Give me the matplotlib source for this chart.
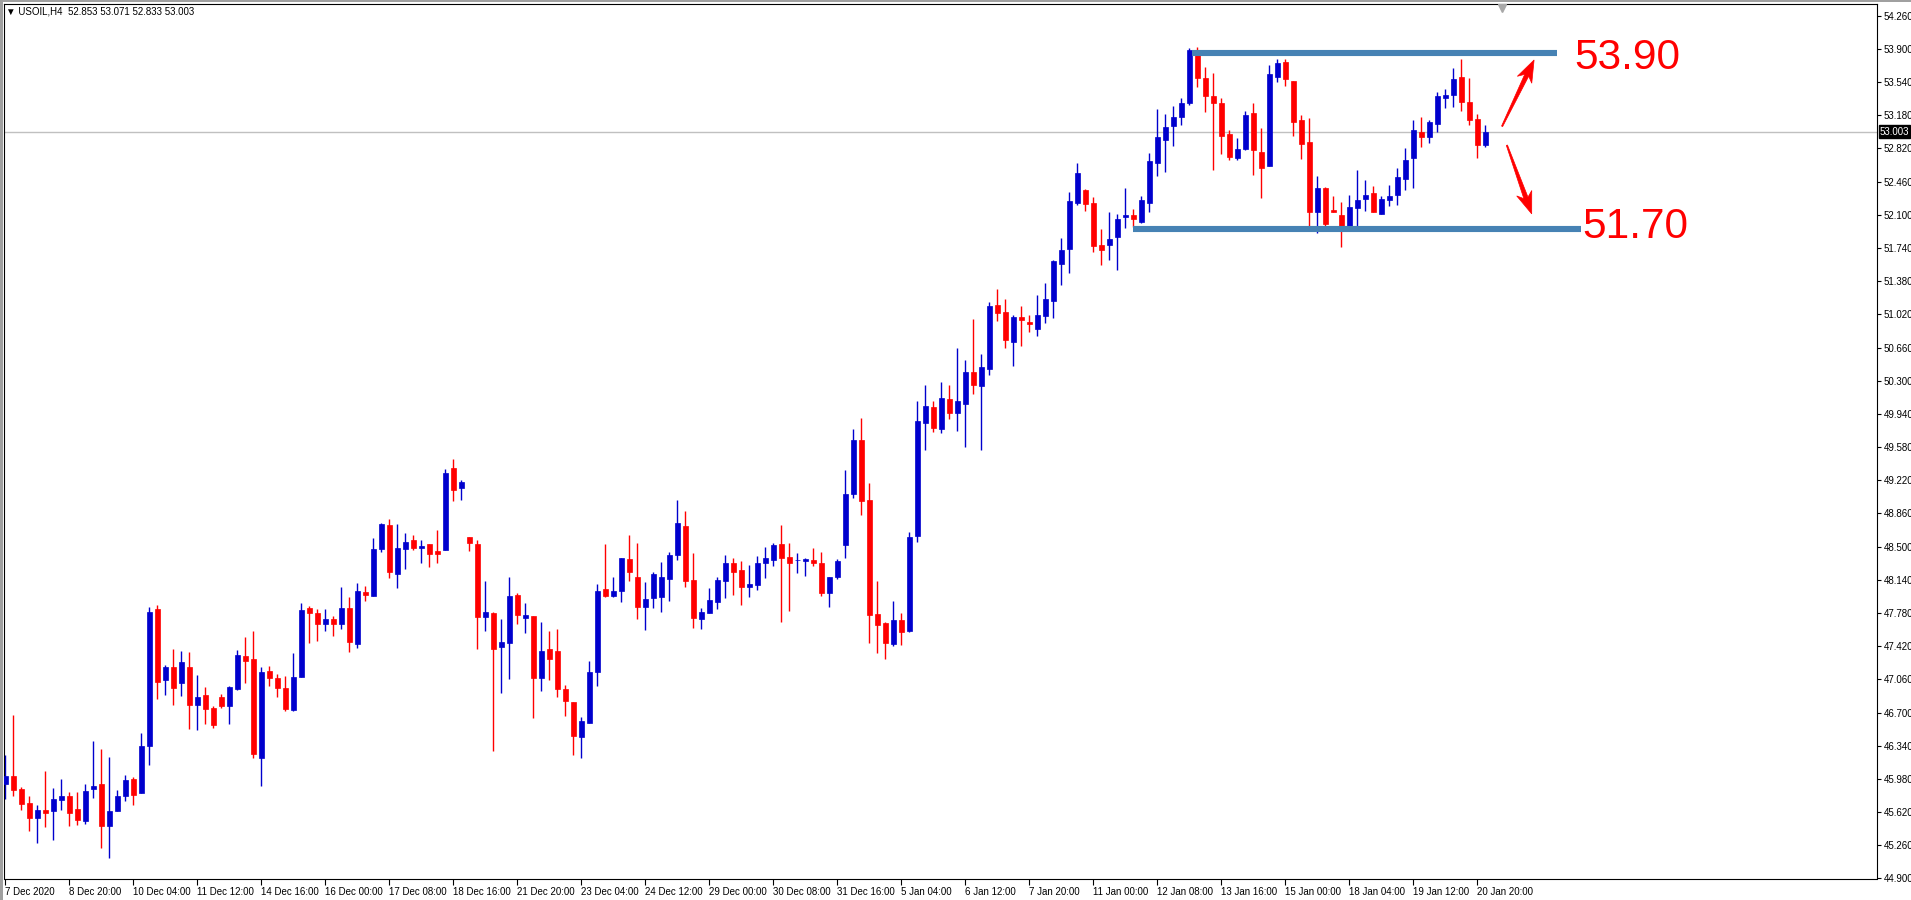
import numpy as np
import matplotlib
matplotlib.use("Agg")
import matplotlib.pyplot as plt
from matplotlib.patches import Polygon, Rectangle

plt.rcParams['font.family'] = ['Liberation Sans', 'DejaVu Sans']

# USOIL H4 candles, 7 Dec 2020 12:00 -> 21 Jan 2021 00:00
open_ = [45.92, 46.01, 45.87, 45.72, 45.56, 45.64, 45.63, 45.75, 45.79, 45.65,
         45.52, 45.87, 45.92, 45.47, 45.63, 45.80, 45.98, 45.83, 46.34, 47.82,
         47.05, 47.19, 47.02, 47.19, 46.78, 46.89, 46.75, 46.87, 46.77, 46.96,
         47.31, 47.28, 46.21, 47.15, 47.08, 46.97, 46.73, 47.09, 47.83, 47.78,
         47.66, 47.71, 47.66, 47.83, 47.44, 48.01, 47.96, 48.47, 48.74, 48.20,
         48.47, 48.57, 48.49, 48.53, 48.45, 48.46, 49.35, 49.14, 48.60, 48.53,
         47.74, 47.78, 47.41, 47.46, 47.98, 47.73, 47.75, 47.08, 47.39, 47.37,
         46.96, 46.82, 46.44, 46.59, 47.14, 48.04, 47.97, 48.02, 48.37, 48.17,
         47.84, 47.94, 47.95, 48.15, 48.41, 48.72, 48.14, 47.72, 47.78, 47.90,
         48.13, 48.32, 48.25, 48.06, 48.08, 48.32, 48.36, 48.53, 48.39, 48.35,
         48.34, 48.36, 48.32, 48.00, 48.17, 48.52, 49.07, 49.66, 49.01, 47.77,
         47.67, 47.44, 47.70, 47.59, 48.62, 49.84, 50.01, 49.78, 50.10, 49.95,
         50.05, 50.39, 50.24, 50.43, 51.12, 51.05, 50.72, 50.99, 50.94, 50.86,
         51.00, 51.17, 51.57, 51.73, 52.23, 52.37, 52.23, 51.77, 51.77, 51.86,
         52.08, 52.10, 52.02, 52.23, 52.66, 52.91, 53.06, 53.16, 53.31, 53.89,
         53.58, 53.39, 53.31, 52.98, 52.72, 52.81, 53.20, 52.78, 52.63, 53.60,
         53.76, 53.55, 53.13, 52.89, 52.13, 52.39, 52.15, 52.10, 51.98, 52.17,
         52.27, 52.34, 52.11, 52.26, 52.31, 52.49, 52.72, 53.00, 52.94, 53.08,
         53.37, 53.40, 53.60, 53.32, 53.14, 52.853]
high = [46.24, 46.67, 45.89, 45.79, 45.70, 46.07, 45.88, 45.98, 45.84, 45.84,
        45.93, 46.39, 46.30, 46.22, 45.86, 46.02, 46.00, 46.48, 47.85, 47.87,
        47.22, 47.39, 47.37, 47.36, 47.11, 46.98, 46.77, 46.90, 46.99, 47.38,
        47.52, 47.58, 47.19, 47.20, 47.12, 47.10, 47.35, 47.89, 47.86, 47.82,
        47.82, 47.75, 48.06, 47.95, 48.11, 48.07, 48.59, 48.76, 48.80, 48.75,
        48.65, 48.63, 48.57, 48.53, 48.68, 49.34, 49.45, 49.22, 48.60, 48.57,
        48.13, 47.79, 47.72, 48.17, 48.00, 47.89, 47.75, 47.68, 47.59, 47.61,
        47.00, 46.82, 46.65, 47.26, 48.10, 48.53, 48.17, 48.38, 48.63, 48.54,
        48.12, 48.22, 48.33, 48.44, 49.01, 48.89, 48.43, 47.83, 48.05, 48.17,
        48.41, 48.38, 48.34, 48.30, 48.40, 48.50, 48.54, 48.73, 48.54, 48.43,
        48.38, 48.49, 48.44, 48.17, 48.37, 49.33, 49.78, 49.90, 49.19, 48.13,
        47.68, 47.91, 47.78, 48.66, 50.08, 50.25, 50.08, 50.29, 50.25, 50.65,
        50.52, 50.97, 50.59, 51.15, 51.29, 51.19, 51.01, 51.11, 51.01, 51.23,
        51.36, 51.61, 51.85, 52.35, 52.66, 52.38, 52.29, 51.95, 52.13, 52.11,
        52.39, 52.16, 52.30, 52.77, 53.25, 53.19, 53.28, 53.37, 53.91, 53.92,
        53.70, 53.64, 53.37, 53.02, 52.93, 53.23, 53.31, 53.04, 53.73, 53.79,
        53.79, 53.55, 53.18, 53.15, 52.52, 52.40, 52.30, 52.24, 52.32, 52.59,
        52.48, 52.41, 52.30, 52.42, 52.61, 52.82, 53.13, 53.16, 53.13, 53.43,
        53.47, 53.69, 53.79, 53.58, 53.19, 53.071]
low = [45.76, 45.80, 45.64, 45.42, 45.29, 45.46, 45.32, 45.64, 45.47, 45.48,
       45.49, 45.77, 45.23, 45.12, 45.63, 45.74, 45.70, 45.83, 46.13, 46.85,
       46.89, 46.78, 46.88, 46.52, 46.51, 46.58, 46.53, 46.75, 46.58, 46.94,
       47.02, 46.21, 45.90, 46.99, 46.87, 46.72, 46.72, 47.09, 47.46, 47.48,
       47.59, 47.53, 47.61, 47.36, 47.40, 47.91, 47.96, 48.44, 48.16, 48.05,
       48.26, 48.46, 48.32, 48.28, 48.32, 48.46, 48.99, 49.01, 48.45, 47.39,
       47.59, 46.28, 46.91, 47.06, 47.66, 47.56, 46.64, 46.93, 47.05, 46.87,
       46.66, 46.24, 46.21, 46.59, 46.99, 47.95, 47.95, 47.90, 48.13, 47.72,
       47.60, 47.83, 47.79, 47.91, 48.36, 48.06, 47.62, 47.61, 47.78, 47.82,
       47.94, 47.98, 47.87, 47.95, 48.03, 48.16, 48.29, 47.68, 47.80, 48.21,
       48.18, 48.29, 47.96, 47.84, 48.15, 48.38, 49.03, 48.84, 47.46, 47.35,
       47.28, 47.42, 47.43, 47.57, 48.55, 49.55, 49.74, 49.73, 49.89, 49.75,
       49.58, 50.16, 49.55, 50.36, 50.95, 50.66, 50.46, 50.68, 50.83, 50.79,
       50.93, 50.98, 51.34, 51.47, 52.21, 52.14, 51.70, 51.56, 51.61, 51.50,
       51.96, 51.97, 52.01, 52.13, 52.52, 52.56, 52.85, 53.07, 53.29, 53.49,
       53.22, 52.59, 52.76, 52.69, 52.70, 52.80, 52.53, 52.28, 52.63, 53.54,
       53.50, 52.96, 52.71, 51.97, 51.90, 51.98, 52.13, 51.75, 51.92, 51.94,
       52.14, 52.13, 52.11, 52.20, 52.21, 52.37, 52.39, 52.84, 52.88, 53.00,
       53.26, 53.27, 53.23, 53.07, 52.72, 52.833]
close = [46.01, 45.86, 45.71, 45.56, 45.64, 45.61, 45.76, 45.80, 45.61, 45.54,
         45.85, 45.90, 45.47, 45.63, 45.80, 45.97, 45.81, 46.34, 47.79, 47.03,
         47.19, 46.97, 47.25, 46.78, 46.87, 46.74, 46.57, 46.77, 46.98, 47.33,
         47.26, 46.25, 47.14, 47.07, 46.97, 46.74, 47.09, 47.81, 47.78, 47.66,
         47.72, 47.66, 47.83, 47.47, 48.02, 47.98, 48.47, 48.75, 48.22, 48.48,
         48.55, 48.49, 48.51, 48.42, 48.42, 49.30, 49.12, 49.20, 48.54, 47.74,
         47.79, 47.39, 47.47, 47.97, 47.76, 47.76, 47.08, 47.37, 47.28, 46.96,
         46.83, 46.45, 46.61, 47.14, 48.02, 47.97, 48.02, 48.38, 48.23, 47.84,
         47.93, 48.20, 48.17, 48.41, 48.76, 48.13, 47.73, 47.79, 47.92, 48.14,
         48.32, 48.23, 48.06, 48.10, 48.32, 48.38, 48.52, 48.38, 48.32, 48.36,
         48.37, 48.32, 48.00, 48.17, 48.34, 49.07, 49.66, 49.00, 47.76, 47.65,
         47.45, 47.70, 47.57, 48.61, 49.86, 50.03, 49.79, 50.11, 49.95, 50.08,
         50.40, 50.25, 50.45, 51.11, 51.04, 50.74, 50.99, 50.96, 50.92, 51.01,
         51.19, 51.60, 51.72, 52.25, 52.55, 52.22, 51.76, 51.72, 51.84, 52.05,
         52.10, 52.05, 52.26, 52.68, 52.94, 53.05, 53.16, 53.31, 53.89, 53.58,
         53.39, 53.31, 52.96, 52.73, 52.81, 53.18, 52.80, 52.61, 53.63, 53.75,
         53.57, 53.11, 52.87, 52.13, 52.39, 52.00, 52.13, 51.97, 52.19, 52.26,
         52.32, 52.13, 52.27, 52.30, 52.51, 52.70, 53.02, 52.94, 53.11, 53.39,
         53.40, 53.57, 53.32, 53.13, 52.86, 53.003]

time_labels = ["7 Dec 2020", "8 Dec 20:00", "10 Dec 04:00", "11 Dec 12:00",
               "14 Dec 16:00", "16 Dec 00:00", "17 Dec 08:00", "18 Dec 16:00",
               "21 Dec 20:00", "23 Dec 04:00", "24 Dec 12:00", "29 Dec 00:00",
               "30 Dec 08:00", "31 Dec 16:00", "5 Jan 04:00", "6 Jan 12:00",
               "7 Jan 20:00", "11 Jan 00:00", "12 Jan 08:00", "13 Jan 16:00",
               "15 Jan 00:00", "18 Jan 04:00", "19 Jan 12:00", "20 Jan 20:00"]
bars_per_label = 8

resistance = 53.855
support = 51.951
last_price = 53.003
header = "\u25bc USOIL,H4  52.853 53.071 52.833 53.003"

BULL = "#0000cd"
BEAR = "#ff0000"
LEVEL = "#4682b4"

W, H = 1911, 900
fig = plt.figure(figsize=(W / 100, H / 100), dpi=100)
fig.patch.set_facecolor("white")
# plot box in pixels: x 4..1877, y 4..878.5
ax = fig.add_axes([4 / W, 1 - 878.5 / H, (1877 - 4) / W, (878.5 - 4) / H])

PX_BAR = 8.0
ymin, ymax = 44.90, 54.387
PX_PRICE = (878.5 - 4) / (ymax - ymin)
ax.set_xlim((4 - 5.3) / PX_BAR, (1877 - 5.3) / PX_BAR)
ax.set_ylim(ymin, ymax)

o = np.array(open_)
h = np.array(high)
l = np.array(low)
c = np.array(close)
x = np.arange(len(o))
cols = np.where(c >= o, BULL, BEAR)

ax.vlines(x, l, h, colors=cols, linewidth=1.0, zorder=2)
ax.bar(x, np.abs(c - o), bottom=np.minimum(o, c), width=0.56,
       color=cols, edgecolor=cols, linewidth=0.5, zorder=3)

# current price line
ax.axhline(last_price, color="#c0c0c0", linewidth=1.0, zorder=1)

# range levels drawn on the chart
ax.plot([148.3, 194.0], [resistance, resistance], color=LEVEL, linewidth=4.4,
        solid_capstyle="butt", zorder=4)
ax.plot([141.0, 197.0], [support, support], color=LEVEL, linewidth=4.4,
        solid_capstyle="butt", zorder=4)


def arrow(tail, head, hl=17, hw=8, w1=2.2):
    # build the arrow in pixel space, convert back to bar/price units
    tx, ty = tail[0] * PX_BAR, -tail[1] * PX_PRICE
    hx, hy = head[0] * PX_BAR, -head[1] * PX_PRICE
    d = np.array([hx - tx, hy - ty])
    u = d / np.hypot(*d)
    n = np.array([-u[1], u[0]])
    T = np.array([tx, ty])
    Hd = np.array([hx, hy])
    pts = [T + n * 0.6,
           Hd - u * hl + n * w1,
           Hd - u * (hl + 5) + n * hw,
           Hd,
           Hd - u * (hl + 5) - n * hw,
           Hd - u * hl - n * w1,
           T - n * 0.6]
    pts = [(p[0] / PX_BAR, -p[1] / PX_PRICE) for p in pts]
    ax.add_patch(Polygon(pts, closed=True, facecolor=BEAR, edgecolor=BEAR,
                         linewidth=0.5, zorder=5))


arrow((187.1, 53.06), (191.1, 53.78))
arrow((187.7, 52.855), (190.8, 52.11))

ax.text(196.1, 53.678, "53.90", fontsize=30.5, color=BEAR, ha="left",
        va="baseline", family="Liberation Sans", zorder=6)
ax.text(197.1, 51.848, "51.70", fontsize=30.5, color=BEAR, ha="left",
        va="baseline", family="Liberation Sans", zorder=6)

# axes, MT4 style
for sp in ax.spines.values():
    sp.set_color("black")
    sp.set_linewidth(0.8)

yt = np.round(np.arange(44.90, 54.27, 0.36), 3)
ax.yaxis.tick_right()
ax.set_yticks(yt)
ax.set_yticklabels([f"{v:.3f}" for v in yt])
ax.tick_params(axis="y", direction="out", length=3, width=0.8, pad=2,
               labelsize=7, colors="black")

xt = np.arange(len(time_labels)) * bars_per_label
ax.set_xticks(xt)
ax.set_xticklabels(time_labels, ha="left")
ax.tick_params(axis="x", direction="out", length=4, width=0.8, pad=2,
               labelsize=7, colors="black")

ax.text(1.0015, last_price, f"{last_price:.3f}", transform=ax.get_yaxis_transform(),
        fontsize=7, color="white", va="center", ha="left",
        bbox=dict(boxstyle="square,pad=0.12", facecolor="black", edgecolor="black"),
        clip_on=False, zorder=7)

# chart shift marker at the top
ax.plot([187.1], [ymax - 4 / PX_PRICE], marker="v", color="#a8a8a8",
        markersize=6, clip_on=False, zorder=7)

fig.text(6 / W, 1 - 11 / H, header, fontsize=7, color="black", va="center",
         ha="left", family=["Liberation Sans", "DejaVu Sans"])

# window frame
fig.patches.append(Rectangle((0, 0), 3 / W, 1, transform=fig.transFigure,
                             facecolor="#a0a0a0", edgecolor="none", zorder=0))
fig.patches.append(Rectangle((0, 1 - 2 / H), 1, 2 / H, transform=fig.transFigure,
                             facecolor="#a0a0a0", edgecolor="none", zorder=0))

fig.savefig("out.png", dpi=100)
